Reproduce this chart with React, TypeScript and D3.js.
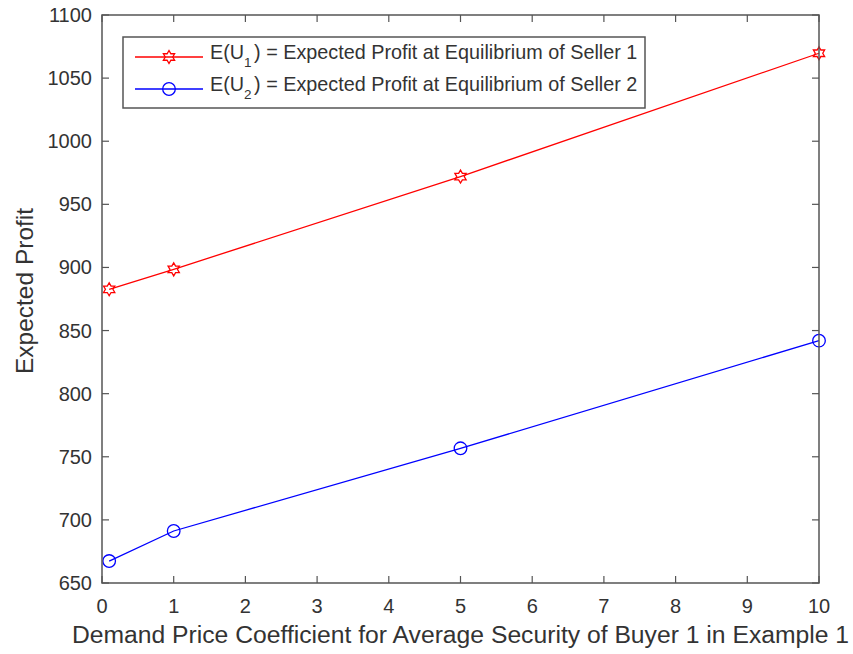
import React from "react";
import * as d3 from "d3";

// Demand price coefficient values (x) and equilibrium expected profits
const coefficients = [0.1, 1, 5, 10];
const profitSeller1 = [882.7, 898.5, 972, 1069.7];
const profitSeller2 = [667.4, 691.2, 756.7, 842];

const xTicks = [0, 1, 2, 3, 4, 5, 6, 7, 8, 9, 10];
const yTicks = [650, 700, 750, 800, 850, 900, 950, 1000, 1050, 1100];

const xLabel = "Demand Price Coefficient for Average Security of Buyer 1 in Example 1";
const yLabel = "Expected Profit";
const legendLabels = [
  { pre: "E(U", sub: "1", post: ") = Expected Profit at Equilibrium of Seller 1" },
  { pre: "E(U", sub: "2", post: ") = Expected Profit at Equilibrium of Seller 2" },
];

const W = 853;
const H = 654;
const plot = { left: 102, right: 819, top: 15, bottom: 583 };
const axisColor = "#555";
const textColor = "#333";
const font = "'Liberation Sans', Arial, Helvetica, sans-serif";

function hexagramPath(cx: number, cy: number, R: number): string {
  const r = R / Math.sqrt(3);
  const pts: [number, number][] = [];
  for (let k = 0; k < 12; k++) {
    const a = (Math.PI / 2) + (k * Math.PI) / 6;
    const rad = k % 2 === 0 ? R : r;
    pts.push([cx + rad * Math.cos(a), cy - rad * Math.sin(a)]);
  }
  return "M" + pts.map((p) => p.join(",")).join("L") + "Z";
}

export default function App() {
  const x = d3.scaleLinear().domain([0, 10]).range([plot.left, plot.right]);
  const y = d3.scaleLinear().domain([650, 1100]).range([plot.bottom, plot.top]);

  const line = d3
    .line<number>()
    .x((_, i) => x(coefficients[i]))
    .y((d) => y(d));

  const tickLen = 7;
  const series = [
    { data: profitSeller1, color: "#ff0000", marker: "hex" },
    { data: profitSeller2, color: "#0000ff", marker: "circle" },
  ];

  const drawMarker = (cx: number, cy: number, kind: string, color: string, key: string) =>
    kind === "hex" ? (
      <path key={key} d={hexagramPath(cx, cy, 6.5)} fill="none" stroke={color} strokeWidth={1.3} />
    ) : (
      <circle key={key} cx={cx} cy={cy} r={6.3} fill="none" stroke={color} strokeWidth={1.3} />
    );

  const legend = { x: 123, y: 37, w: 522, h: 71 };
  const legendRows = [57, 89];

  return (
    <svg
      width={W}
      height={H}
      style={{ position: "absolute", left: 0, top: 0, background: "#fff" }}
      fontFamily={font}
    >
      <rect x={0} y={0} width={W} height={H} fill="#fff" />

      {/* data lines */}
      {series.map((s, si) => (
        <g key={si}>
          <path d={line(s.data) || ""} fill="none" stroke={s.color} strokeWidth={1.3} />
          {s.data.map((v, i) => drawMarker(x(coefficients[i]), y(v), s.marker, s.color, `m${si}-${i}`))}
        </g>
      ))}

      {/* axes box */}
      <rect
        x={plot.left}
        y={plot.top}
        width={plot.right - plot.left}
        height={plot.bottom - plot.top}
        fill="none"
        stroke={axisColor}
        strokeWidth={1.5}
      />

      {/* x ticks */}
      {xTicks.map((t) => (
        <g key={`x${t}`}>
          <line x1={x(t)} x2={x(t)} y1={plot.bottom} y2={plot.bottom - tickLen} stroke={axisColor} strokeWidth={1.2} />
          <line x1={x(t)} x2={x(t)} y1={plot.top} y2={plot.top + tickLen} stroke={axisColor} strokeWidth={1.2} />
          <text x={x(t)} y={613} textAnchor="middle" fontSize={20} fill={textColor}>
            {t}
          </text>
        </g>
      ))}

      {/* y ticks */}
      {yTicks.map((t) => (
        <g key={`y${t}`}>
          <line x1={plot.left} x2={plot.left + tickLen} y1={y(t)} y2={y(t)} stroke={axisColor} strokeWidth={1.2} />
          <line x1={plot.right} x2={plot.right - tickLen} y1={y(t)} y2={y(t)} stroke={axisColor} strokeWidth={1.2} />
          <text x={92} y={y(t) + 7} textAnchor="end" fontSize={20} fill={textColor}>
            {t}
          </text>
        </g>
      ))}

      {/* axis labels */}
      <text x={(plot.left + plot.right) / 2} y={643} textAnchor="middle" fontSize={24.7} fill={textColor}>
        {xLabel}
      </text>
      <text
        transform={`translate(33, 291) rotate(-90)`}
        textAnchor="middle"
        fontSize={24.5}
        fill={textColor}
      >
        {yLabel}
      </text>

      {/* legend */}
      <rect x={legend.x} y={legend.y} width={legend.w} height={legend.h} fill="#fff" stroke={axisColor} strokeWidth={1.5} />
      {legendLabels.map((lab, i) => {
        const cy = legendRows[i];
        const s = series[i];
        return (
          <g key={`lg${i}`}>
            <line x1={135} x2={203} y1={cy} y2={cy} stroke={s.color} strokeWidth={1.3} />
            {drawMarker(169, cy, s.marker, s.color, `lm${i}`)}
            <text x={210} y={cy + 1.5} fontSize={19.8} fill={textColor}>
              {lab.pre}
              <tspan fontSize={13.5} dy={8}>
                {lab.sub}
              </tspan>
              <tspan dx={2.5} dy={-8}>{lab.post}</tspan>
            </text>
          </g>
        );
      })}
    </svg>
  );
}
